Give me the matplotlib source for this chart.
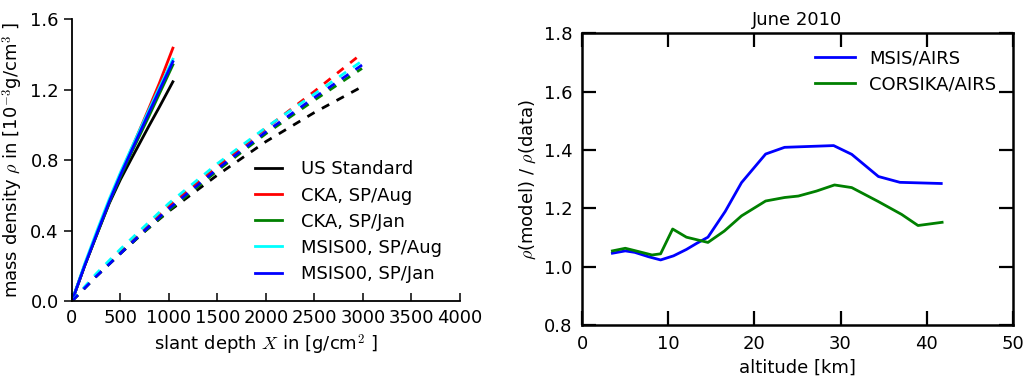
import numpy as np
import matplotlib
matplotlib.use("Agg")
from matplotlib import pyplot as plt

plt.rcParams["font.family"] = ["DejaVu Sans"]
plt.rcParams["mathtext.fontset"] = "cm"
plt.rcParams["font.size"] = 13

# left panel: mass density vs depth
models = ["US Standard", "CKA, SP/Aug", "CKA, SP/Jan", "MSIS00, SP/Aug", "MSIS00, SP/Jan"]
colors = ["black", "red", "green", "cyan", "blue"]

depth_vert = [0, 130, 265, 385, 500, 615, 790, 900, 1040]
rho_vert = {
    "US Standard":    [0, 0.20, 0.39, 0.555, 0.69, 0.81, 0.99, 1.10, 1.244],
    "CKA, SP/Aug":    [0, 0.20, 0.395, 0.565, 0.72, 0.865, 1.09, 1.235, 1.435],
    "CKA, SP/Jan":    [0, 0.20, 0.39, 0.56, 0.705, 0.845, 1.045, 1.175, 1.34],
    "MSIS00, SP/Aug": [0, 0.21, 0.41, 0.58, 0.73, 0.87, 1.08, 1.21, 1.372],
    "MSIS00, SP/Jan": [0, 0.20, 0.395, 0.565, 0.715, 0.855, 1.065, 1.195, 1.358],
}

depth_slant = [0, 250, 500, 750, 1000, 1500, 2000, 2500, 2990]
rho_slant = {
    "US Standard":    [0, 0.14, 0.27, 0.395, 0.51, 0.715, 0.905, 1.07, 1.216],
    "CKA, SP/Aug":    [0, 0.145, 0.28, 0.41, 0.54, 0.765, 0.98, 1.19, 1.405],
    "CKA, SP/Jan":    [0, 0.14, 0.27, 0.395, 0.515, 0.74, 0.95, 1.14, 1.32],
    "MSIS00, SP/Aug": [0, 0.155, 0.295, 0.425, 0.555, 0.78, 0.985, 1.175, 1.362],
    "MSIS00, SP/Jan": [0, 0.14, 0.27, 0.40, 0.525, 0.75, 0.96, 1.155, 1.339],
}

# right panel: density ratio vs altitude, June 2010
alt_msis = [3.5, 5.0, 6.1, 7.7, 9.1, 10.6, 12.1, 13.3, 14.6, 16.6, 18.5, 21.3, 23.5, 29.2, 31.3, 34.4, 36.9, 41.7]
ratio_msis = [1.046, 1.054, 1.049, 1.034, 1.023, 1.037, 1.059, 1.080, 1.101, 1.189, 1.288, 1.386, 1.409, 1.415, 1.385, 1.309, 1.289, 1.285]
alt_corsika = [3.5, 5.0, 6.1, 8.1, 9.1, 10.5, 12.1, 14.6, 16.5, 18.5, 21.3, 23.5, 25.1, 27.2, 29.3, 31.3, 34.4, 37.1, 39.0, 41.8]
ratio_corsika = [1.054, 1.063, 1.055, 1.040, 1.044, 1.129, 1.101, 1.083, 1.122, 1.174, 1.225, 1.237, 1.242, 1.259, 1.280, 1.271, 1.223, 1.179, 1.141, 1.152]

fig = plt.figure(figsize=(10.30, 3.81), dpi=100)

ax1 = fig.add_axes([0.0699, 0.21, 0.3767, 0.74])
for name, c in zip(models, colors):
    ax1.plot(depth_vert, rho_vert[name], color=c, lw=2, label=name)
for name, c in zip(models, colors):
    ax1.plot(depth_slant, rho_slant[name], color=c, lw=2, linestyle=(0, (3, 3)))
ax1.set_xlim(0, 4000)
ax1.set_ylim(0, 1.6)
ax1.set_xticks(np.arange(0, 4001, 500))
ax1.set_yticks([0.0, 0.4, 0.8, 1.2, 1.6])
ax1.spines["top"].set_visible(False)
ax1.spines["right"].set_visible(False)
ax1.spines["left"].set_linewidth(1.3)
ax1.spines["bottom"].set_linewidth(1.3)
ax1.tick_params(axis="y", direction="out", length=6, width=1.1, right=False)
ax1.tick_params(axis="x", direction="in", length=6, width=1.1, top=False, pad=6)
ax1.set_xlabel(r"slant depth $X$ in [g/cm$^2$ ]")
ax1.set_ylabel(r"mass density $\rho$ in [10$^{-3}$g/cm$^3$ ]")
ax1.legend(loc="lower right", frameon=False, handlelength=1.5, handletextpad=1.05,
           labelspacing=0.45, borderaxespad=0.6, bbox_to_anchor=(1.0, 0.0))

ax2 = fig.add_axes([0.5653, 0.147, 0.4179, 0.7657])
ax2.plot(alt_msis, ratio_msis, color="blue", lw=2, label="MSIS/AIRS")
ax2.plot(alt_corsika, ratio_corsika, color="green", lw=2, label="CORSIKA/AIRS")
ax2.set_xlim(0, 50)
ax2.set_ylim(0.8, 1.8)
ax2.set_xticks(np.arange(0, 51, 10))
ax2.set_yticks(np.arange(0.8, 1.81, 0.2))
ax2.tick_params(direction="in", length=10, width=1.6, top=True, right=True, pad=7)
for s in ax2.spines.values():
    s.set_linewidth(1.8)
ax2.set_xlabel("altitude [km]")
ax2.set_ylabel(r"$\rho$(model) / $\rho$(data)")
ax2.set_title("June 2010", fontsize=13, pad=6)
ax2.legend(loc="upper right", frameon=False, handlelength=2.2, handletextpad=0.8,
           labelspacing=0.45, borderaxespad=0.5)

fig.savefig("out.png", dpi=100)
